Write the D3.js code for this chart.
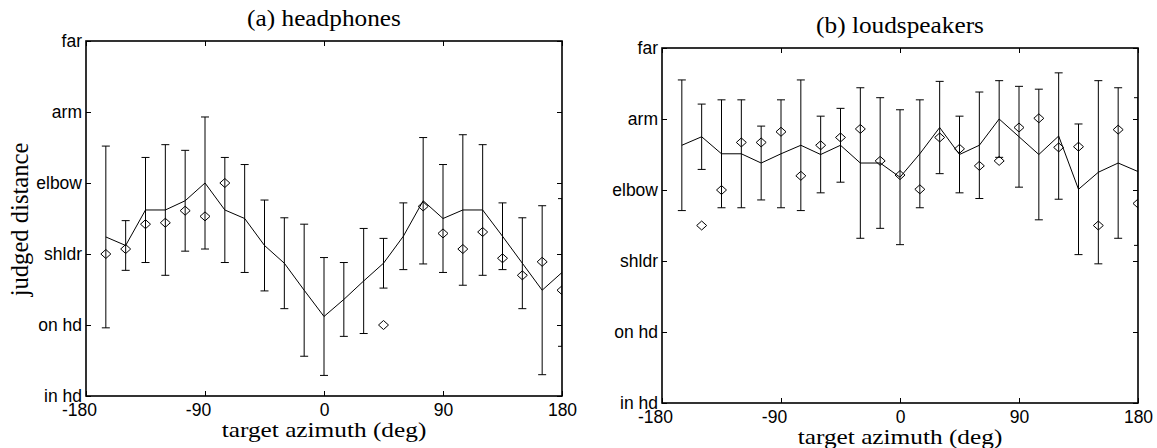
<!DOCTYPE html>
<html>
<head>
<meta charset="utf-8">
<script src="https://cdn.jsdelivr.net/npm/d3@7"></script>
<style>
  html, body { margin: 0; padding: 0; background: #fff; }
  svg { display: block; }
  .tick text { font-family: "Liberation Sans", Arial, sans-serif; font-size: 17.5px; fill: #000; }
  .serif { font-family: "Liberation Serif", "Times New Roman", serif; fill: #000; }
</style>
</head>
<body>
<svg id="chart" width="1157" height="448"></svg>
<script>
// Target azimuths (deg)
const azimuth = [-165, -150, -135, -120, -105, -90, -75, -60, -45, -30, -15, 0,
                 15, 30, 45, 60, 75, 90, 105, 120, 135, 150, 165, 180];

// Distance categories, bottom to top
const distanceLabels = ["in hd", "on hd", "shldr", "elbow", "arm", "far"];
const azimuthTicks = [-180, -90, 0, 90, 180];

// (a) headphones: mean judged distance, standard deviation, median marker
const phonesMean = [2.24, 2.12, 2.62, 2.62, 2.75, 3.00, 2.62, 2.50, 2.12, 1.87, 1.49, 1.12,
                    1.36, 1.62, 1.87, 2.25, 2.75, 2.50, 2.62, 2.62, 2.25, 1.87, 1.49, 1.74];
const phonesSd   = [1.28, 0.35, 0.74, 0.92, 0.71, 0.93, 0.74, 0.76, 0.64, 0.64, 0.93, 0.83,
                    0.52, 0.74, 0.35, 0.47, 0.89, 0.76, 1.06, 0.92, 0.47, 0.64, 1.19, 1.04];
const phonesMed  = [2.00, 2.07, 2.42, 2.44, 2.61, 2.53, 3.00, null, null, null, null, null,
                    null, null, 1.00, null, 2.67, 2.29, 2.07, 2.31, 1.94, 1.70, 1.89, 1.49];

// (b) loudspeakers
const speakersMean = [3.63, 3.75, 3.51, 3.51, 3.38, 3.51, 3.63, 3.50, 3.63, 3.38, 3.38, 3.18,
                      3.51, 3.88, 3.50, 3.63, 4.00, 3.75, 3.50, 3.76, 3.01, 3.25, 3.38, 3.26];
const speakersSd   = [0.92, 0.46, 0.76, 0.76, 0.52, 0.76, 0.92, 0.54, 0.52, 1.06, 0.92, 0.95,
                      0.76, 0.65, 0.54, 0.75, 0.54, 0.71, 0.92, 0.89, 0.92, 1.29, 1.06, 1.04];
const speakersMed  = [null, 2.50, 3.00, 3.67, 3.67, 3.82, 3.20, 3.63, 3.74, 3.86, 3.41, 3.21,
                      3.01, 3.74, 3.58, 3.34, 3.41, 3.88, 4.01, 3.60, 3.61, 2.50, 3.85, 2.81];

const svg = d3.select("#chart");

const panels = [
  { id: "a", title: "(a) headphones", mean: phonesMean, sd: phonesSd, med: phonesMed,
    left: 86, right: 562, top: 41, bottom: 396, yLabel: "judged distance" },
  { id: "b", title: "(b) loudspeakers", mean: speakersMean, sd: speakersSd, med: speakersMed,
    left: 662, right: 1138, top: 48, bottom: 403, yLabel: null }
];

const capHalf = 4;     // half-width of error-bar caps
const diaW = 5, diaH = 4.5;

panels.forEach(p => {
  const x = d3.scaleLinear().domain([-180, 180]).range([p.left, p.right]);
  const y = d3.scaleLinear().domain([0, distanceLabels.length - 1]).range([p.bottom, p.top]);
  const g = svg.append("g");

  // clip region = axes box
  svg.append("clipPath").attr("id", "clip-" + p.id)
    .append("rect")
    .attr("x", p.left).attr("y", p.top)
    .attr("width", p.right - p.left).attr("height", p.bottom - p.top);

  const data = azimuth.map((az, i) => ({ az, m: p.mean[i], s: p.sd[i], d: p.med[i] }));
  const plot = g.append("g").attr("clip-path", `url(#clip-${p.id})`);

  // error bars
  const eb = plot.append("g").attr("stroke", "#000").attr("stroke-width", 1).attr("fill", "none");
  data.forEach(d => {
    const cx = x(d.az);
    eb.append("line").attr("x1", cx).attr("x2", cx).attr("y1", y(d.m - d.s)).attr("y2", y(d.m + d.s));
    eb.append("line").attr("x1", cx - capHalf).attr("x2", cx + capHalf).attr("y1", y(d.m + d.s)).attr("y2", y(d.m + d.s));
    eb.append("line").attr("x1", cx - capHalf).attr("x2", cx + capHalf).attr("y1", y(d.m - d.s)).attr("y2", y(d.m - d.s));
  });

  // mean line
  plot.append("path")
    .datum(data)
    .attr("fill", "none").attr("stroke", "#000").attr("stroke-width", 1)
    .attr("d", d3.line().x(d => x(d.az)).y(d => y(d.m)));

  // median diamonds
  plot.append("g").selectAll("path")
    .data(data.filter(d => d.d !== null))
    .join("path")
    .attr("fill", "none").attr("stroke", "#000").attr("stroke-width", 1)
    .attr("d", d => {
      const cx = x(d.az), cy = y(d.d);
      return `M${cx},${cy - diaH}L${cx + diaW},${cy}L${cx},${cy + diaH}L${cx - diaW},${cy}Z`;
    });

  // axes: inward ticks
  const yAxis = d3.axisLeft(y).tickValues(d3.range(distanceLabels.length))
    .tickFormat(i => distanceLabels[i]).tickSizeInner(-5).tickSizeOuter(0).tickPadding(4);
  const gy = g.append("g").attr("transform", `translate(${p.left},0)`).call(yAxis);

  const xAxis = d3.axisBottom(x).tickValues(azimuthTicks).tickFormat(d => String(d))
    .tickSizeInner(-5).tickSizeOuter(0).tickPadding(7.5);
  const gx = g.append("g").attr("transform", `translate(0,${p.bottom})`).call(xAxis);
  gx.selectAll(".tick text").attr("dx", d => d < 0 ? -7 : 0);

  const gTop = g.append("g").attr("transform", `translate(0,${p.top})`)
    .call(d3.axisTop(x).tickValues(azimuthTicks).tickFormat("").tickSizeInner(-5).tickSizeOuter(0));
  const gRight = g.append("g").attr("transform", `translate(${p.right},0)`)
    .call(d3.axisRight(y).tickValues(d3.range(distanceLabels.length)).tickFormat("").tickSizeInner(-5).tickSizeOuter(0));

  [gy, gx, gTop, gRight].forEach(a => {
    a.select(".domain").remove();
    a.selectAll(".tick line").attr("stroke", "#000").attr("stroke-width", 1);
  });

  // axes box
  g.append("rect")
    .attr("x", p.left).attr("y", p.top)
    .attr("width", p.right - p.left).attr("height", p.bottom - p.top)
    .attr("fill", "none").attr("stroke", "#000").attr("stroke-width", 1.6);

  // title
  g.append("text").attr("class", "serif")
    .attr("transform", `translate(${(p.left + p.right) / 2},${p.top - 15}) scale(1,0.88)`)
    .attr("text-anchor", "middle").attr("font-size", 25.3)
    .text(p.title);

  // x-axis label
  g.append("text").attr("class", "serif")
    .attr("transform", `translate(${x(0)},${p.bottom + 40.5}) scale(1,0.84)`)
    .attr("text-anchor", "middle").attr("font-size", 25.3)
    .text("target azimuth (deg)");

  // y-axis label
  if (p.yLabel) {
    g.append("text").attr("class", "serif")
      .attr("transform", `translate(28,${(p.top + p.bottom) / 2 + 1}) rotate(-90)`)
      .attr("text-anchor", "middle").attr("font-size", 24.6)
      .text(p.yLabel);
  }
});
</script>
</body>
</html>
